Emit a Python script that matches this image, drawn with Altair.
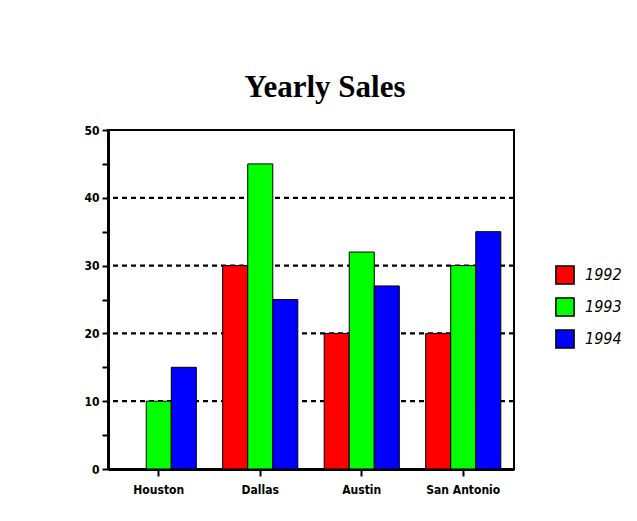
import altair as alt
import pandas as pd

cities = ["Houston", "Dallas", "Austin", "San Antonio"]
years = ["1992", "1993", "1994"]
sales_1992 = [0, 30, 20, 20]
sales_1993 = [10, 45, 32, 30]
sales_1994 = [15, 25, 27, 35]
grid_values = [10, 20, 30, 40]
y_tick_values = [0, 5, 10, 15, 20, 25, 30, 35, 40, 45, 50]
colors = ["#ff0000", "#00ff00", "#0000ff"]

rows = []
for year, series in zip(years, [sales_1992, sales_1993, sales_1994]):
    for city, v in zip(cities, series):
        rows.append({"city": city, "year": year, "sales": v})
df = pd.DataFrame(rows)
grid_df = pd.DataFrame({"sales": grid_values})

label_font = "Liberation Sans Narrow, DejaVu Sans Condensed, Liberation Sans, sans-serif"

y_axis = alt.Axis(
    values=y_tick_values,
    labelExpr="datum.value % 10 == 0 ? datum.label : ''",
    title=None,
    tickSize=6,
    labelPadding=3,
    labelFontSize=12,
)
y_enc = alt.Y("sales:Q", scale=alt.Scale(domain=[0, 50], nice=False), axis=y_axis)

rules = alt.Chart(grid_df).mark_rule(
    color="black", strokeWidth=2.2, strokeDash=[5, 4]
).encode(y=y_enc)

bars = alt.Chart(df).mark_bar(stroke="black", strokeWidth=1).encode(
    x=alt.X(
        "city:N",
        sort=cities,
        scale=alt.Scale(paddingInner=0.26, paddingOuter=0.13),
        axis=alt.Axis(title=None, labelAngle=0, tickSize=7, labelPadding=8, labelFontSize=12),
    ),
    xOffset=alt.XOffset("year:N", sort=years, scale=alt.Scale(paddingInner=0, paddingOuter=0)),
    y=y_enc,
    color=alt.Color(
        "year:N",
        sort=years,
        scale=alt.Scale(domain=years, range=colors),
        legend=alt.Legend(
            title=None,
            orient="none",
            legendX=447,
            legendY=135,
            symbolType="square",
            symbolSize=330,
            symbolStrokeColor="black",
            symbolStrokeWidth=1.5,
            symbolOpacity=1,
            rowPadding=6,
            labelFont=label_font,
            labelFontStyle="italic",
            labelFontSize=16,
            labelColor="black",
            labelOffset=10,
        ),
    ),
)

chart = (
    alt.layer(rules, bars)
    .properties(
        width=406,
        height=339,
        autosize=alt.AutoSizeParams(type="none"),
        padding={"left": 100, "top": 122, "right": 115, "bottom": 44},
        title=alt.TitleParams(
            "Yearly Sales",
            font="Liberation Serif",
            fontSize=31,
            fontWeight="bold",
            color="black",
            anchor="middle",
            dx=14,
            offset=20,
        ),
        background="white",
    )
    .configure_view(stroke="black", strokeWidth=2)
    .configure_axis(
        domainColor="black",
        domainWidth=3,
        tickColor="black",
        tickWidth=2,
        grid=False,
        labelFont=label_font,
        labelFontWeight="bold",
        labelColor="black",
    )
)

chart.save("out.html", embed_options={"renderer": "svg", "actions": False})
